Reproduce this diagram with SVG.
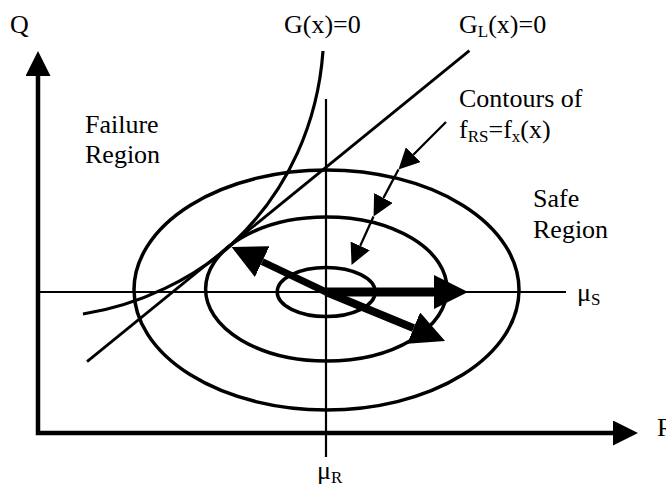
<svg xmlns="http://www.w3.org/2000/svg" width="666" height="489" viewBox="0 0 666 489">
<style>
text{font-family:'Liberation Serif','Times New Roman','DejaVu Serif',serif;font-size:26px;fill:#000}
.sub{font-size:17px}
.axis{fill:none;stroke:#000;stroke-width:4.5;stroke-linejoin:miter}
.thin{fill:none;stroke:#000;stroke-width:2.2}
.contour{fill:none;stroke:#000;stroke-width:3.5}
.curve{fill:none;stroke:#000;stroke-width:3.2}
.lin{fill:none;stroke:#000;stroke-width:2.8}
.ptr{fill:none;stroke:#000;stroke-width:2.3}
.vec{fill:none;stroke:#000}
</style>
<defs>
<marker id="hAxis" markerUnits="userSpaceOnUse" markerWidth="25" markerHeight="25" viewBox="0 0 25 25" refX="0" refY="12.5" orient="auto-start-reverse"><path d="M0,0 L25,12.5 L0,25 Z" fill="#000"/></marker>
<marker id="hBig" markerUnits="userSpaceOnUse" markerWidth="34" markerHeight="34" viewBox="0 0 34 34" refX="0" refY="17" orient="auto"><path d="M0,0 L34,17 L0,34 Z" fill="#000"/></marker>
<marker id="hSmall" markerUnits="userSpaceOnUse" markerWidth="21" markerHeight="21" viewBox="0 0 21 21" refX="0" refY="10.5" orient="auto"><path d="M0,0 L21,10.5 L0,21 Z" fill="#000"/></marker>
</defs>

<g id="axes">
<path class="axis" d="M38,76 L38,433 L613,433" marker-start="url(#hAxis)" marker-end="url(#hAxis)"/>
<text x="10" y="33" font-family="Liberation Serif, serif">Q</text>
<text x="657" y="436">R</text>
</g>

<g id="mean-lines">
<line class="thin" x1="326" y1="99" x2="326" y2="457"/>
<line class="thin" x1="38" y1="292" x2="566" y2="292"/>
<text x="577" y="301">μ<tspan class="sub" dy="4">S</tspan></text>
<text x="317" y="479">μ<tspan class="sub" dy="4">R</tspan></text>
</g>

<g id="contours">
<ellipse class="contour" cx="326.5" cy="290" rx="192.5" ry="120"/>
<ellipse class="contour" cx="326.3" cy="289" rx="120.7" ry="72"/>
<ellipse class="contour" cx="326.2" cy="292" rx="49" ry="24.5"/>
</g>

<g id="limit-state">
<path class="curve" d="M323,51 C318,120 290,190 232,244 C195,278 140,305 83,314"/>
<text x="284" y="33">G(x)=0</text>
</g>

<g id="linearized-limit-state">
<line class="lin" x1="469.4" y1="50.7" x2="87" y2="361.7"/>
<text x="459" y="33">G<tspan class="sub" dy="4">L</tspan><tspan dy="-4">(x)=0</tspan></text>
</g>

<g id="failure-region">
<text x="85" y="133">Failure</text>
<text x="85" y="163">Region</text>
</g>

<g id="safe-region">
<text x="533" y="207">Safe</text>
<text x="533" y="238">Region</text>
</g>

<g id="contour-label">
<text x="459" y="107">Contours of</text>
<text x="459" y="138">f<tspan class="sub" dy="4">RS</tspan><tspan dy="-4">=f</tspan><tspan class="sub" dy="4">x</tspan><tspan dy="-4">(x)</tspan></text>
</g>

<g id="connectors">
<line class="vec" stroke-width="9" x1="326" y1="292" x2="434" y2="292" marker-end="url(#hBig)"/>
<line class="vec" stroke-width="8" x1="326" y1="292" x2="413.6" y2="328.1" marker-end="url(#hBig)"/>
<line class="vec" stroke-width="7" x1="326" y1="292" x2="262.2" y2="261.6" marker-end="url(#hBig)"/>
<line class="ptr" x1="446" y1="122" x2="413.3" y2="154.7" marker-end="url(#hSmall)"/>
<line class="ptr" x1="398.5" y1="169.5" x2="383.4" y2="198" marker-end="url(#hSmall)"/>
<line class="ptr" x1="373.5" y1="216.5" x2="360.2" y2="245.9" marker-end="url(#hSmall)"/>
</g>
</svg>
